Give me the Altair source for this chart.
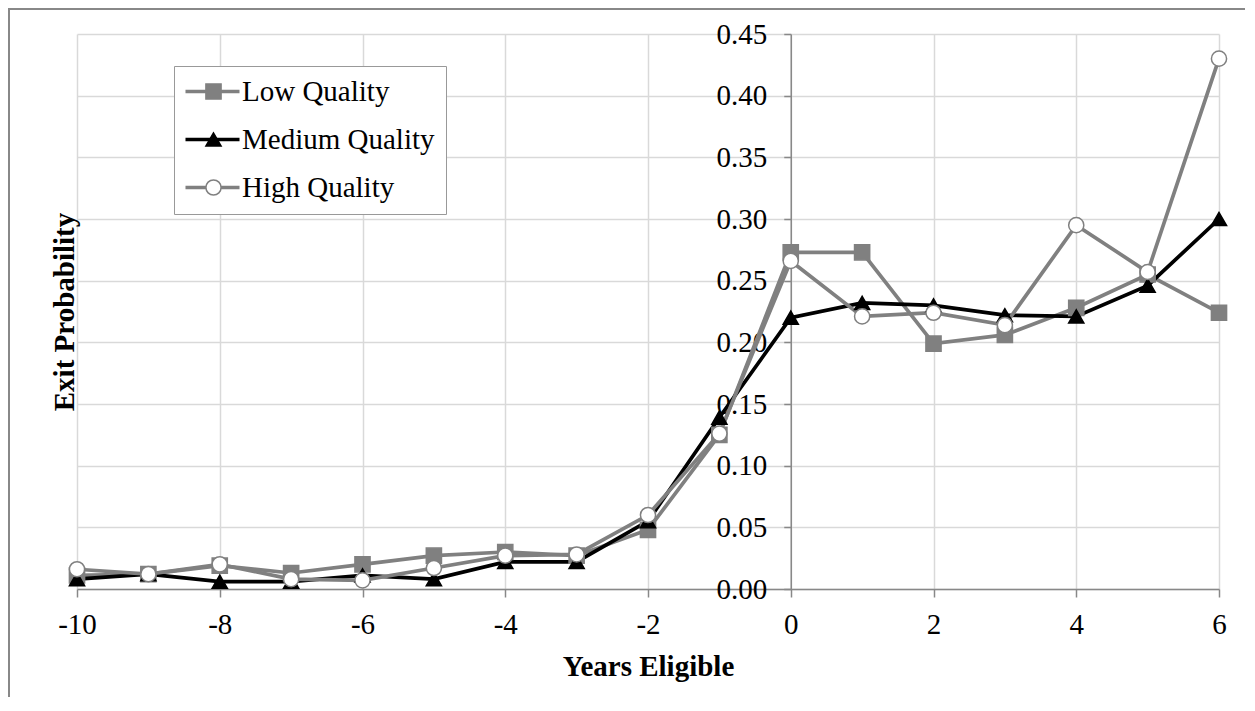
import altair as alt
import pandas as pd

years = [-10, -9, -8, -7, -6, -5, -4, -3, -2, -1, 0, 1, 2, 3, 4, 5, 6]
low = [0.011, 0.012, 0.019, 0.013, 0.020, 0.027, 0.030, 0.027, 0.048, 0.125, 0.273, 0.273, 0.199, 0.206, 0.228, 0.255, 0.224]
medium = [0.008, 0.012, 0.006, 0.006, 0.011, 0.008, 0.022, 0.022, 0.055, 0.139, 0.220, 0.232, 0.230, 0.222, 0.221, 0.246, 0.300]
high = [0.016, 0.012, 0.020, 0.008, 0.007, 0.017, 0.027, 0.028, 0.060, 0.126, 0.266, 0.221, 0.224, 0.214, 0.295, 0.257, 0.430]

series_names = ["Low Quality", "Medium Quality", "High Quality"]
marker_keys = ["Low Quality marker", "Medium Quality marker", "High Quality marker"]
line_colors = ["#808080", "#000000", "#808080"]
fill_colors = ["#808080", "#000000", "#ffffff"]
shapes = ["square", "triangle-up", "circle"]
x_ticks = [-10, -8, -6, -4, -2, 0, 2, 4, 6]
y_ticks = [0.0, 0.05, 0.10, 0.15, 0.20, 0.25, 0.30, 0.35, 0.40, 0.45]

rows = []
for name, key, vals in zip(series_names, marker_keys, [low, medium, high]):
    for yr, v in zip(years, vals):
        rows.append({"year": yr, "value": v, "series": name, "marker": key})
df = pd.DataFrame(rows)

W, H = 1142, 555
FONT = "Liberation Serif"
FS = 29
GRID = "#d9d9d9"
AXC = "#888888"
y_axis_offset = -W * 10 / 16

x_enc = alt.X("year:Q", scale=alt.Scale(domain=[-10, 6], nice=False),
              axis=alt.Axis(values=x_ticks, labelExpr="'' + datum.value", grid=True,
                            gridColor=GRID, gridWidth=1.5,
                            domainColor=AXC, domainWidth=1.5, tickColor=AXC, tickWidth=1.5,
                            tickSize=8, labelFontSize=FS, labelFont=FONT, labelColor="black",
                            labelPadding=13, labelFlush=False,
                            title="Years Eligible", titleFont=FONT, titleFontSize=FS,
                            titleFontWeight="bold", titleColor="black",
                            titleBaseline="alphabetic", titleY=86, titleX=W / 2))
y_enc = alt.Y("value:Q", scale=alt.Scale(domain=[0, 0.45], nice=False),
              axis=alt.Axis(values=y_ticks, format=".2f", offset=y_axis_offset, grid=True,
                            gridColor=GRID, gridWidth=1.5, domainColor=AXC, domainWidth=1.5,
                            tickColor=AXC, tickWidth=1.5, tickSize=7, labelFontSize=FS,
                            labelFont=FONT, labelColor="black", labelPadding=17,
                            labelFlush=False, labelOverlap=False,
                            title="Exit Probability", titleFont=FONT, titleFontSize=FS,
                            titleFontWeight="bold", titleColor="black", titleAngle=270,
                            titleBaseline="alphabetic", titleAlign="center",
                            titleX=y_axis_offset - 4, titleY=H / 2))

line_legend = alt.Legend(orient="none", legendX=97, legendY=32, title=None,
                         symbolType="M-3.82,0H3.82", symbolSize=200, symbolStrokeWidth=3.7,
                         symbolOffset=13, labelOffset=15, labelFontSize=FS, labelFont=FONT,
                         labelColor="black", labelLimit=400, padding=11, rowPadding=18,
                         fillColor="white", strokeColor="#999999", zindex=1)
point_legend = alt.Legend(orient="none", legendX=97, legendY=32, title=None,
                          symbolSize=230, symbolStrokeWidth=1.5, symbolOffset=14,
                          labelOffset=15, labelFontSize=FS, labelFont=FONT,
                          labelOpacity=0, labelLimit=400, padding=11, rowPadding=18,
                          labelExpr="replace(datum.label, ' marker', '')",
                          symbolOpacity=1, zindex=2)

base = alt.Chart(df)

lines = base.mark_line(strokeWidth=3.7).encode(
    x=x_enc, y=y_enc,
    color=alt.Color("series:N", scale=alt.Scale(domain=series_names, range=line_colors),
                    legend=line_legend),
)

points = base.mark_point(filled=True, size=230, strokeWidth=1.5, opacity=1).encode(
    x="year:Q", y="value:Q",
    shape=alt.Shape("marker:N", scale=alt.Scale(domain=marker_keys, range=shapes),
                    legend=point_legend),
    fill=alt.Fill("marker:N", scale=alt.Scale(domain=marker_keys, range=fill_colors),
                  legend=point_legend),
    stroke=alt.Stroke("marker:N", scale=alt.Scale(domain=marker_keys, range=line_colors),
                      legend=point_legend),
)

frame = alt.Chart(pd.DataFrame({"f": [0]})).mark_rect(
    fillOpacity=0, stroke="#888888", strokeWidth=2
).encode(x=alt.value(-68), y=alt.value(-25), x2=alt.value(3000), y2=alt.value(3000))

chart = alt.layer(frame, lines, points).properties(
    width=W, height=H,
    autosize=alt.AutoSizeParams(type="none"),
    padding={"left": 69, "top": 26, "right": 26, "bottom": 108},
    background="white",
).configure_view(strokeWidth=0)

chart.save("out.html", embed_options={"renderer": "svg", "actions": False})
